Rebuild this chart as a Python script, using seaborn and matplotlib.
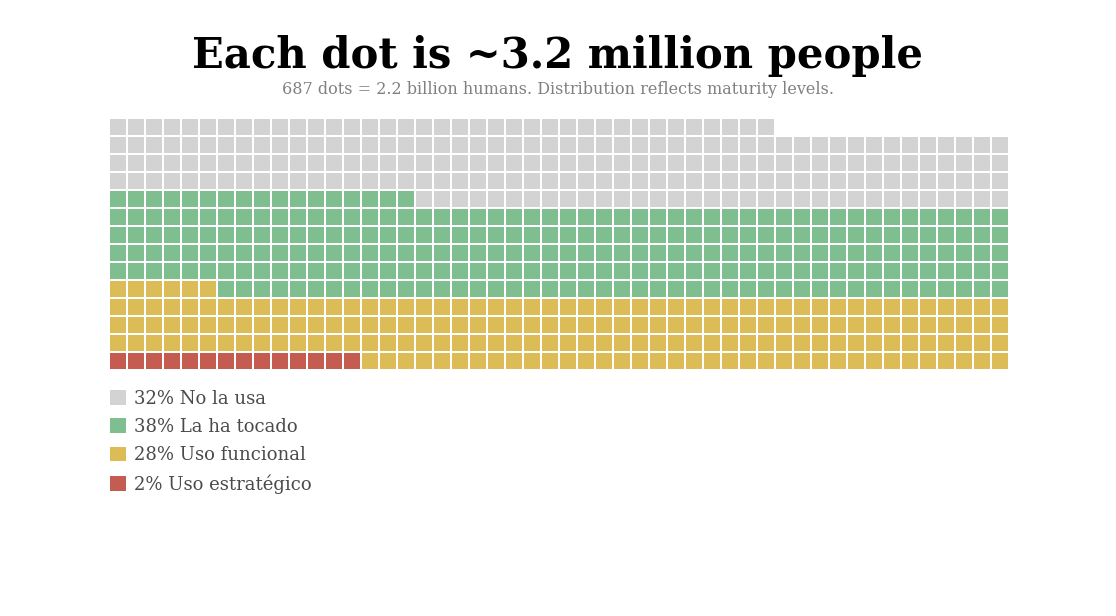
import numpy as np
import pandas as pd
import matplotlib
matplotlib.use("Agg")
import matplotlib.pyplot as plt
from matplotlib.colors import ListedColormap
from matplotlib.patches import Patch
import seaborn as sns

# ---- data ----
categories = ["Uso estratégico", "Uso funcional", "La ha tocado", "No la usa"]
percent_labels = ["2%", "28%", "38%", "32%"]
dot_counts = [14, 192, 261, 220]
colors = ["#c45c52", "#dcbc56", "#7fbf8f", "#d3d3d3"]
n_cols = 50
title = "Each dot is ~3.2 million people"
subtitle = "687 dots = 2.2 billion humans. Distribution reflects maturity levels."

total = sum(dot_counts)
n_rows = int(np.ceil(total / n_cols))
codes = np.repeat(np.arange(len(dot_counts)), dot_counts).astype(float)
flat = np.full(n_rows * n_cols, np.nan)
flat[:total] = codes
grid = flat.reshape(n_rows, n_cols)[::-1]  # bottom row first -> flip for heatmap
df = pd.DataFrame(grid)

sns.set_theme(style="white")
plt.rcParams["font.family"] = ["DejaVu Serif"]

W, H = 1116, 616
fig = plt.figure(figsize=(W / 100, H / 100), dpi=100)
cell = 18
left_px, top_px = 109, 118
ax = fig.add_axes([left_px / W, (H - top_px - n_rows * cell) / H,
                   n_cols * cell / W, n_rows * cell / H])
sns.heatmap(df, ax=ax, cmap=ListedColormap(colors), vmin=-0.5, vmax=3.5,
            cbar=False, linewidths=1.44, linecolor="white",
            xticklabels=False, yticklabels=False)
ax.set_xlabel("")
ax.set_ylabel("")
for s in ax.spines.values():
    s.set_visible(False)

fig.text(0.5, 1 - 56 / H, title, ha="center", va="center",
         fontsize=30.1, fontweight="bold", color="#000000")
fig.text(0.5, 1 - 90 / H, subtitle, ha="center", va="center",
         fontsize=11.5, color="#808080")

order = [3, 2, 1, 0]
handles = [Patch(facecolor=colors[i], edgecolor="none") for i in order]
labels = [f"{percent_labels[i]} {categories[i]}" for i in order]
leg = fig.legend(handles, labels, loc="upper left",
                 bbox_to_anchor=(110 / W, 1 - 390 / H), frameon=False,
                 fontsize=13, handlelength=0.89, handleheight=0.89,
                 handletextpad=0.44, labelspacing=0.56, borderpad=0,
                 borderaxespad=0)
for t in leg.get_texts():
    t.set_color("#4a4a4a")

fig.savefig("out.png", dpi=100, facecolor="white")
